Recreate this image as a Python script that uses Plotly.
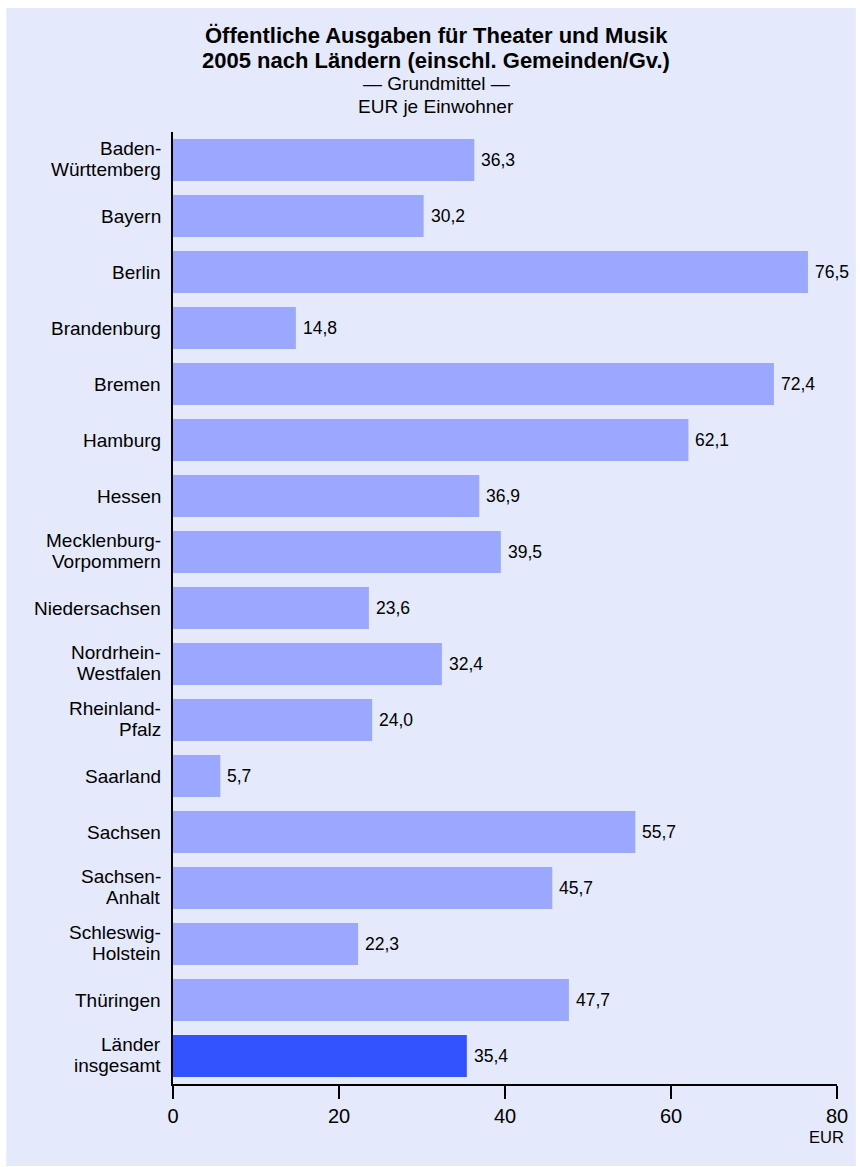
import plotly.graph_objects as go

categories = ["Baden-<br>Württemberg", "Bayern", "Berlin", "Brandenburg", "Bremen", "Hamburg",
              "Hessen", "Mecklenburg-<br>Vorpommern", "Niedersachsen", "Nordrhein-<br>Westfalen",
              "Rheinland-<br>Pfalz", "Saarland", "Sachsen", "Sachsen-<br>Anhalt",
              "Schleswig-<br>Holstein", "Thüringen", "Länder<br>insgesamt"]
values = [36.3, 30.2, 76.5, 14.8, 72.4, 62.1, 36.9, 39.5, 23.6, 32.4, 24.0, 5.7, 55.7, 45.7, 22.3, 47.7, 35.4]
tick_vals = [0, 20, 40, 60, 80]
tick_text = ["0", "20", "40", "60", "80"]

LIGHT = "#9ba8ff"
DARK = "#3353ff"
BG = "#e4e9fb"
FONT = "Liberation Sans, Arial, sans-serif"

colors = [LIGHT] * (len(values) - 1) + [DARK]

W, H = 860, 1167
L, R, T, B = 173, 18, 132, 83
pw, ph = W - L - R, H - T - B

def px_x(x):
    return (x - L) / pw

def px_y(y):
    return (H - B - y) / ph

fig = go.Figure()
fig.add_trace(go.Bar(
    x=values, y=categories, orientation="h",
    marker=dict(color=colors, line=dict(width=0)),
    hoverinfo="skip",
))

annotations = []
for c, v in zip(categories, values):
    annotations.append(dict(
        x=v, y=c, xref="x", yref="y", text=f"{v:.1f}".replace(".", ","),
        showarrow=False, xanchor="left", xshift=5,
        font=dict(family=FONT, size=17.5, color="#000000"),
    ))
    lines = c.split("<br>")
    if len(lines) == 1:
        shifts = [0]
    else:
        shifts = [12, -9.5]
    for line, s in zip(lines, shifts):
        annotations.append(dict(
            x=0, y=c, xref="paper", yref="y", text=line, showarrow=False,
            xanchor="right", yanchor="middle", xshift=-10, yshift=s,
            font=dict(family=FONT, size=19, color="#000000"),
        ))

cx = px_x(438)
annotations += [
    dict(x=cx, y=px_y(36), xref="paper", yref="paper", showarrow=False,
         text="<b>Öffentliche Ausgaben für Theater und Musik</b>",
         font=dict(family=FONT, size=22, color="#000"), xanchor="center", yanchor="middle"),
    dict(x=cx, y=px_y(60), xref="paper", yref="paper", showarrow=False,
         text="<b>2005 nach Ländern (einschl. Gemeinden/Gv.)</b>",
         font=dict(family=FONT, size=22, color="#000"), xanchor="center", yanchor="middle"),
    dict(x=cx, y=px_y(84), xref="paper", yref="paper", showarrow=False,
         text="— Grundmittel —",
         font=dict(family=FONT, size=19, color="#000"), xanchor="center", yanchor="middle"),
    dict(x=cx, y=px_y(106), xref="paper", yref="paper", showarrow=False,
         text="EUR je Einwohner",
         font=dict(family=FONT, size=19, color="#000"), xanchor="center", yanchor="middle"),
    dict(x=px_x(851), y=px_y(1137), xref="paper", yref="paper", showarrow=False,
         text="EUR", font=dict(family=FONT, size=16.5, color="#000"),
         xanchor="right", yanchor="middle"),
]

fig.update_layout(
    width=W, height=H,
    margin=dict(l=L, r=R, t=T, b=B, pad=0),
    paper_bgcolor="white", plot_bgcolor="rgba(0,0,0,0)",
    bargap=0.25, showlegend=False,
    font=dict(family=FONT, color="#000"),
    annotations=annotations,
    shapes=[dict(type="rect", xref="paper", yref="paper",
                 x0=px_x(5), x1=px_x(861), y0=px_y(1166), y1=px_y(8),
                 fillcolor=BG, line=dict(width=0), layer="below")],
)
fig.update_xaxes(range=[0, 80], tickvals=tick_vals, ticktext=tick_text,
                 ticks="outside", ticklen=13, tickwidth=1.5, tickcolor="#000",
                 showline=True, linecolor="#000", linewidth=2,
                 showgrid=False, zeroline=False,
                 tickfont=dict(family=FONT, size=20, color="#000"))
fig.update_yaxes(autorange="reversed", showline=True, linecolor="#000", linewidth=1.5,
                 showgrid=False, ticks="", showticklabels=False)

fig.write_html("out.html", config={"displayModeBar": False},
               post_script="document.body.style.margin='0';")
